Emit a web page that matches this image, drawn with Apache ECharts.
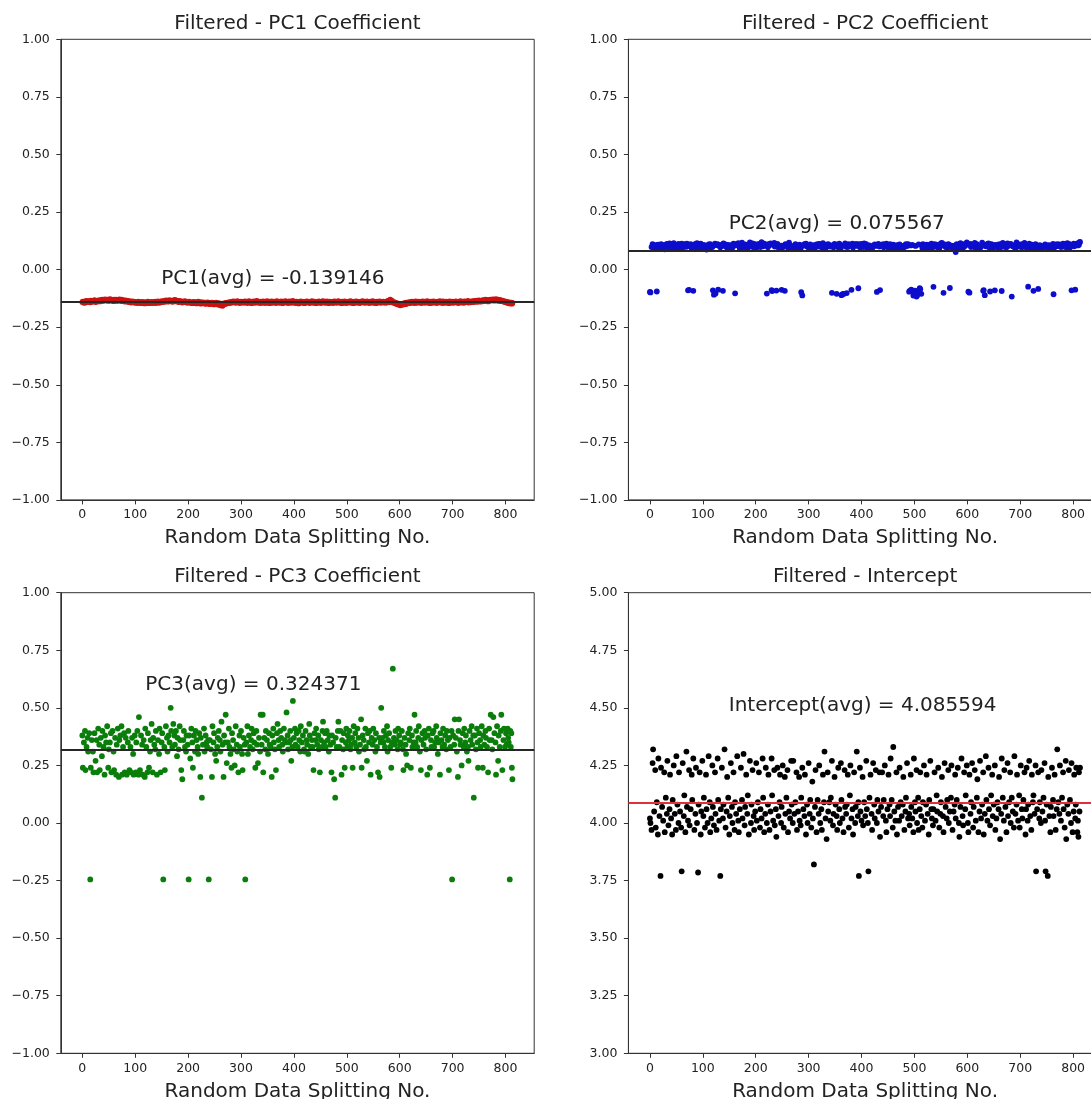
<!DOCTYPE html>
<html>
<head>
<meta charset="utf-8">
<title>Filtered coefficients</title>
<script src="https://cdn.jsdelivr.net/npm/echarts@6/dist/echarts.min.js"></script>
<style>
html,body{margin:0;padding:0;background:#fff}
#chart{width:1091px;height:1099px}
</style>
</head>
<body>
<div id="chart"></div>
<script>
// Tick positions on the splitting-number axis
const splitTicks = [0, 100, 200, 300, 400, 500, 600, 700, 800];

// Averages printed on each panel
const avgPC1 = -0.139146;
const avgPC2 = 0.075567;
const avgPC3 = 0.324371;
const avgIntercept = 4.085594;

// Splitting numbers that passed the filter (20 per row; the value arrays below follow the same rows)
const splits = [
0,1,3,5,6,8,10,11,13,15,16,18,20,21,23,25,27,28,30,32,
33,35,37,38,40,42,43,45,47,49,50,52,54,55,57,59,60,62,64,65,
67,69,70,72,74,75,77,79,80,82,84,86,87,89,91,92,94,96,97,99,
101,102,104,106,107,109,111,113,114,116,118,119,121,123,124,126,128,129,131,133,
134,136,138,139,141,143,145,146,148,150,151,153,155,156,158,160,161,163,165,167,
168,170,172,174,175,177,179,180,182,184,185,187,189,191,192,194,196,197,199,201,
202,204,206,208,209,211,213,214,216,218,219,221,223,224,226,228,230,231,233,235,
236,238,239,241,243,245,246,248,249,251,253,255,256,258,260,261,263,265,267,268,
270,271,273,275,277,278,280,282,283,285,286,288,290,292,293,295,297,298,300,302,
303,305,307,308,310,312,313,315,317,319,320,322,324,325,327,329,330,332,334,336,
337,339,341,342,344,346,347,349,351,353,354,356,358,359,361,362,364,366,368,369,
371,372,374,376,378,379,381,383,384,386,388,389,391,393,394,395,397,398,400,402,
403,405,407,409,410,412,413,415,417,419,420,422,424,425,427,429,430,432,434,435,
437,439,441,442,444,446,447,449,451,453,454,455,457,459,460,462,464,466,467,469,
471,472,474,476,478,479,481,483,484,486,488,490,491,493,494,496,498,499,501,502,
504,505,507,508,510,511,513,515,516,518,520,522,523,525,527,528,530,532,533,535,
536,538,540,542,543,545,547,549,550,552,554,555,557,559,561,562,564,565,567,569,
570,572,574,576,577,578,580,582,584,585,587,589,591,592,594,596,597,599,601,602,
604,606,607,609,611,612,614,616,618,619,621,623,624,626,628,630,631,633,635,636,
638,640,641,643,645,647,648,650,652,653,655,657,659,660,662,664,665,667,669,670,
672,674,676,677,679,681,682,684,686,688,689,691,693,694,696,698,699,701,703,704,
706,708,710,711,712,714,715,717,719,721,722,724,725,727,729,730,732,734,736,737,
739,740,742,744,746,747,748,750,752,753,755,757,758,760,762,763,765,767,769,770,
772,774,775,777,779,781,782,784,786,787,789,791,792,794,796,797,799,801,802,804,
805,806,808,809,810,811,812,813
];

const pc1 = [
-.141,-.139,-.144,-.138,-.143,-.136,-.139,-.141,-.137,-.142,-.135,-.140,-.138,-.136,-.133,-.141,-.137,-.139,-.134,-.136,
-.138,-.132,-.136,-.130,-.135,-.133,-.129,-.134,-.131,-.136,-.132,-.128,-.135,-.130,-.133,-.137,-.131,-.134,-.130,-.136,
-.132,-.135,-.129,-.134,-.131,-.137,-.133,-.136,-.139,-.134,-.138,-.136,-.141,-.137,-.140,-.143,-.138,-.141,-.139,-.144,
-.140,-.142,-.145,-.139,-.143,-.141,-.146,-.140,-.144,-.142,-.147,-.141,-.145,-.143,-.139,-.146,-.142,-.144,-.140,-.145,
-.141,-.143,-.139,-.145,-.142,-.138,-.144,-.140,-.142,-.137,-.141,-.139,-.136,-.140,-.134,-.138,-.135,-.139,-.133,-.137,
-.136,-.140,-.134,-.138,-.132,-.137,-.135,-.139,-.141,-.136,-.140,-.138,-.143,-.139,-.141,-.137,-.142,-.140,-.144,-.141,
-.139,-.143,-.145,-.141,-.146,-.140,-.144,-.142,-.147,-.143,-.139,-.145,-.141,-.148,-.144,-.142,-.146,-.143,-.149,-.145,
-.142,-.147,-.144,-.150,-.146,-.143,-.148,-.145,-.151,-.147,-.144,-.149,-.152,-.146,-.150,-.155,-.148,-.157,-.151,-.147,
-.149,-.145,-.147,-.143,-.146,-.141,-.144,-.140,-.143,-.138,-.142,-.139,-.144,-.141,-.137,-.143,-.140,-.145,-.139,-.142,
-.140,-.144,-.138,-.142,-.139,-.145,-.141,-.137,-.143,-.140,-.146,-.139,-.142,-.138,-.144,-.141,-.136,-.143,-.140,-.145,
-.139,-.142,-.144,-.138,-.141,-.145,-.140,-.137,-.143,-.139,-.146,-.141,-.138,-.144,-.140,-.142,-.139,-.145,-.137,-.141,
-.143,-.140,-.144,-.138,-.142,-.146,-.139,-.141,-.137,-.143,-.140,-.145,-.138,-.142,-.139,-.144,-.141,-.136,-.143,-.140,
-.145,-.139,-.142,-.147,-.140,-.143,-.138,-.141,-.144,-.140,-.146,-.139,-.142,-.138,-.143,-.141,-.145,-.140,-.137,-.142,
-.144,-.139,-.141,-.146,-.140,-.143,-.138,-.142,-.145,-.139,-.141,-.137,-.143,-.140,-.144,-.138,-.142,-.146,-.139,-.141,
-.143,-.140,-.145,-.138,-.142,-.139,-.144,-.141,-.137,-.143,-.140,-.146,-.139,-.142,-.144,-.138,-.141,-.145,-.140,-.143,
-.139,-.142,-.137,-.144,-.140,-.143,-.146,-.139,-.141,-.138,-.144,-.140,-.142,-.145,-.139,-.141,-.137,-.143,-.140,-.144,
-.141,-.138,-.143,-.140,-.145,-.139,-.142,-.137,-.144,-.140,-.142,-.146,-.139,-.143,-.141,-.138,-.144,-.140,-.142,-.139,
-.143,-.140,-.144,-.138,-.141,-.136,-.142,-.131,-.139,-.135,-.143,-.141,-.146,-.144,-.149,-.147,-.152,-.150,-.155,-.149,
-.153,-.148,-.151,-.146,-.150,-.144,-.147,-.142,-.146,-.141,-.144,-.139,-.143,-.140,-.145,-.138,-.142,-.144,-.139,-.141,
-.143,-.140,-.145,-.138,-.142,-.139,-.144,-.141,-.137,-.143,-.140,-.146,-.139,-.142,-.144,-.138,-.141,-.143,-.140,-.145,
-.139,-.142,-.137,-.143,-.140,-.145,-.138,-.141,-.144,-.139,-.142,-.140,-.146,-.138,-.141,-.143,-.139,-.144,-.140,-.142,
-.138,-.143,-.140,-.145,-.139,-.141,-.137,-.143,-.140,-.144,-.138,-.142,-.139,-.141,-.136,-.143,-.140,-.142,-.138,-.140,
-.137,-.141,-.136,-.139,-.135,-.140,-.137,-.134,-.139,-.136,-.138,-.133,-.137,-.135,-.131,-.136,-.133,-.138,-.132,-.135,
-.130,-.134,-.131,-.129,-.135,-.132,-.128,-.133,-.130,-.136,-.132,-.134,-.137,-.135,-.139,-.137,-.141,-.139,-.143,-.141,
-.145,-.142,-.147,-.144,-.146,-.143,-.148,-.145
];

const pc2 = [
-.097,-.099,.098,.110,.104,.092,.106,.089,-.095,.108,.101,.095,.103,.111,.093,.099,.107,.088,.104,.112,
.096,.108,.114,.101,.094,.110,.105,.115,.097,.106,.089,.104,.112,.099,.107,.093,.113,.105,.098,.110,
.108,.099,.113,-.090,-.088,.102,.111,.092,.106,-.092,.103,.112,.097,.115,.104,.095,.110,.113,.099,.101,
.095,.107,.091,.103,.087,.097,.109,.093,.111,.103,.098,-.090,-.109,.113,-.104,.106,.110,-.087,.104,.097,
.101,.108,-.092,.114,.103,.109,.100,.094,.107,.098,.089,.101,.107,.096,.113,.105,-.103,.111,.108,.115,
.102,.090,.112,.117,.099,.101,.095,.109,.099,.091,.104,.106,.118,.100,.108,.114,.097,.105,.111,.094,
.103,.106,.112,.104,.098,.119,.107,.101,.113,.105,.108,-.104,.097,.111,.106,.114,-.089,-.093,.109,.116,
.100,.107,-.091,.112,.096,.099,.092,.104,-.088,.097,.103,-.092,.110,.106,.109,.095,.117,.104,.091,.100,
.102,.096,.099,.110,.105,.097,.094,.100,.108,.092,-.098,-.112,.104,.111,.107,.113,.101,.099,.096,.102,
.109,.093,.098,.099,.106,.094,.103,.109,.106,.112,.100,.110,.107,.097,.115,.105,.101,.092,.108,.102,
.111,.106,.100,.103,-.101,.106,.097,.112,.104,-.105,.108,.097,.113,.101,.094,-.111,-.107,-.106,.107,.114,
.099,-.102,.098,.111,.106,.103,-.088,.113,.096,.108,.105,.110,.111,.103,-.081,.110,.097,.100,.112,.106,
.098,.114,.104,.111,.096,.102,.099,.105,.093,.101,.092,.101,.106,.109,.103,-.097,.108,.112,.100,-.089,
.105,.103,.111,.097,.107,.104,.113,.102,.095,.101,.110,.097,.105,.099,.108,.096,.100,.093,.106,.104,
.097,.109,.101,.095,.094,.103,.098,.107,.110,.102,.110,-.096,-.093,.105,-.087,.107,-.113,-.109,-.091,.103,
-.117,-.112,-.099,.109,-.081,-.085,-.105,.094,.111,.104,.097,.101,.108,.093,.107,.100,.096,.113,.092,.105,
-.075,.111,.100,.108,.099,.097,.093,.101,.114,.116,.107,-.101,.109,.098,.103,.096,.110,.108,-.080,.097,
.104,.102,.099,.088,.105,.076,.110,.103,.095,.100,.115,.104,.094,.109,.099,.107,.113,.118,.108,-.096,
-.100,.112,.098,.103,.106,.101,.116,.092,.111,.105,.096,.102,.094,.100,.117,-.092,-.089,-.111,.101,.107,
.112,.114,.097,-.095,.110,.108,.094,.102,-.090,.107,.101,.096,.109,.104,.095,.112,-.093,.116,.107,.099,
.111,.097,.114,.103,.108,.106,.112,-.117,.101,.099,.106,.093,.118,.104,.107,.100,.109,.105,.097,.110,
.107,.116,.099,.104,.096,.102,-.074,.113,.095,.104,.108,.100,-.092,.096,.111,.103,.094,-.084,.101,.106,
.103,.095,.100,.098,.102,.109,.104,.097,.093,.106,.094,.105,.101,.096,.112,-.107,.097,.108,.103,.110,
.102,.109,.104,.098,.106,.113,.100,.108,.110,.097,.115,.107,.112,.096,.103,-.090,.106,.113,.101,-.087,
.108,.110,.114,.105,.112,.108,.118,.120
];

const pc3 = [
.38,.24,.35,.40,.23,.33,.37,.31,.39,-.245,.24,.36,.31,.22,.39,.27,.36,.22,.41,.34,
.23,.37,.29,.40,.33,.21,.38,.35,.42,.24,.32,.35,.39,.22,.40,.31,.23,.37,.21,.34,
.41,.20,.36,.38,.42,.21,.33,.39,.22,.37,.21,.35,.40,.23,.33,.22,.37,.30,.21,.38,
.22,.35,.40,.21,.46,.23,.38,.34,.21,.36,.20,.41,.33,.22,.39,.24,.31,.36,.43,.22,
.37,.34,.32,.40,.21,.36,.30,.41,.22,.35,.39,-.245,.33,.23,.42,.37,.31,.38,.35,.50,
.40,.33,.43,.38,.34,.40,.29,.37,.32,.42,.36,.23,.19,.36,.40,.33,.31,.38,.34,-.245,
.38,.28,.41,.35,.24,.38,.31,.40,.36,.33,.30,.39,.20,.37,.11,.34,.41,.31,.38,.35,
.33,.36,-.245,.36,.32,.20,.42,.35,.39,.30,.27,.33,.37,.40,.36,.31,.44,.34,.20,.38,
.35,.47,.26,.35,.41,.33,.30,.24,.39,.36,.32,.25,.42,.34,.31,.22,.38,.33,.40,.30,
.23,.37,.34,-.245,.35,.42,.30,.38,.33,.36,.41,.32,.39,.35,.24,.40,.34,.26,.37,.31,
.47,.34,.47,.22,.37,.32,.40,.36,.30,.39,.34,.33,.20,.38,.41,.35,.32,.23,.39,.43,
.36,.33,.40,.37,.34,.31,.41,.36,.35,.48,.38,.32,.35,.40,.36,.27,.33,.53,.37,.41,
.34,.39,.33,.40,.36,.31,.42,.35,.38,.32,.31,.40,.36,.34,.30,.43,.38,.33,.36,.33,
.23,.39,.36,.41,.34,.38,.32,.22,.36,.33,.40,.44,.35,.39,.33,.40,.36,.31,.38,.34,
.22,.38,.35,.19,.11,.37,.33,.40,.44,.33,.40,.21,.36,.32,.39,.24,.35,.41,.33,.38,
.36,.40,.32,.34,.37,.24,.42,.35,.39,.33,.41,.37,.31,.34,.45,.24,.38,.36,.32,.41,
.33,.27,.39,.35,.40,.21,.37,.34,.41,.36,.31,.39,.33,.22,.37,.20,.35,.50,.37,.35,
.40,.33,.38,.42,.31,.36,.39,.33,.24,.35,.67,.37,.34,.40,.36,.32,.41,.38,.34,.35,
.40,.32,.23,.37,.34,.30,.25,.39,.36,.41,.24,.38,.33,.35,.47,.35,.40,.33,.37,.42,
.31,.23,.36,.39,.34,.40,.37,.32,.21,.38,.41,.24,.36,.33,.39,.40,.33,.35,.42,.37,
.30,.35,.21,.39,.36,.33,.41,.34,.38,.32,.40,.36,.23,.37,.33,.40,-.245,.38,.34,.45,
.37,.31,.20,.40,.45,.36,.34,.25,.39,.33,.41,.35,.38,.31,.33,.27,.40,.36,.42,.34,
.38,.11,.38,.32,.41,.35,.24,.39,.36,.33,.42,.24,.38,.34,.40,.37,.33,.22,.41,.36,
.47,.36,.32,.46,.39,.35,.21,.42,.27,.38,.33,.40,.47,.23,.36,.41,.33,.39,.34,.41,
.37,.35,-.245,.40,.33,.39,.24,.19
];

const intercept = [
4.02,4.00,3.97,4.26,4.32,4.05,4.23,3.98,4.09,3.95,4.28,4.03,3.77,4.24,4.07,4.01,4.22,3.96,4.11,4.04,
4.27,3.99,4.06,4.21,4.02,3.95,4.10,4.25,4.04,3.97,4.29,4.08,4.00,4.22,4.05,3.98,3.79,4.26,4.03,4.12,
3.96,4.31,4.07,4.01,4.23,3.99,4.06,4.21,4.10,4.28,3.97,4.04,4.24,4.00,3.785,4.08,4.22,3.95,4.05,4.27,
4.03,4.11,3.98,4.21,4.06,4.00,4.29,4.09,3.96,4.02,4.25,4.07,3.99,4.22,4.04,3.97,4.28,4.10,4.01,3.77,
4.06,4.24,4.02,4.08,4.32,3.98,4.05,4.20,4.11,3.95,4.03,4.26,4.07,4.00,4.22,3.97,4.09,4.04,4.29,4.01,
3.96,4.06,4.24,4.10,4.02,4.30,3.99,4.07,4.21,4.04,4.12,3.95,4.27,4.00,4.08,4.23,4.03,3.97,4.05,4.26,
4.01,4.09,4.22,3.98,4.06,4.02,4.28,4.11,3.96,4.04,4.24,4.00,4.08,4.21,3.97,4.05,4.28,4.12,4.01,4.23,
3.99,4.06,3.94,4.24,4.03,4.09,4.21,4.00,4.07,4.25,3.98,4.20,4.04,4.11,4.23,3.96,4.05,4.02,4.27,4.08,
4.00,4.27,4.04,4.09,4.22,3.97,4.05,4.20,4.01,3.99,4.11,4.24,4.06,4.03,4.21,3.95,4.08,4.00,4.26,4.04,
4.10,3.98,4.18,4.02,3.82,4.07,4.23,3.96,4.10,4.04,4.25,4.00,4.06,3.97,4.21,4.09,4.31,4.02,3.93,4.22,
4.05,4.09,4.01,4.11,4.27,3.99,4.04,4.20,4.08,4.03,3.97,4.24,4.06,4.00,4.26,4.10,4.02,3.96,4.23,4.07,
4.04,4.08,4.21,3.98,4.12,4.25,4.02,4.06,3.95,4.22,4.00,4.07,4.31,4.03,4.09,3.77,4.24,4.05,4.01,4.20,
3.99,4.09,4.03,4.27,4.06,4.00,3.79,4.11,4.21,4.04,3.97,4.26,4.08,4.02,4.23,4.00,4.10,4.05,4.22,3.94,
4.07,4.22,4.03,4.10,4.25,4.01,3.96,4.06,4.21,4.08,4.03,4.28,4.10,3.98,4.33,4.05,4.01,4.22,3.95,4.07,
4.01,4.24,4.09,4.03,4.08,4.20,3.97,4.05,4.11,4.26,4.02,4.04,3.99,4.21,4.07,4.02,3.96,4.28,4.09,4.05,
4.23,4.00,4.11,3.97,4.06,4.22,4.03,3.98,4.09,4.25,4.01,4.08,4.21,4.04,3.95,4.10,4.27,4.06,4.02,3.99,
4.06,4.22,4.01,4.12,4.05,4.24,3.98,4.04,4.09,4.20,4.03,3.96,4.26,4.07,4.02,4.10,4.23,4.00,4.05,4.11,
4.25,3.97,4.05,4.08,4.21,4.02,4.10,4.24,4.00,3.94,4.07,4.28,4.03,3.99,4.22,4.06,4.12,4.25,4.00,3.96,
4.21,4.04,4.09,4.26,3.98,4.07,4.23,4.01,4.11,4.19,3.96,4.05,4.27,4.02,4.08,4.22,3.95,4.04,4.29,4.10,
4.01,4.24,4.06,3.99,4.12,4.21,4.03,4.08,4.25,3.97,4.02,4.09,4.06,4.20,3.93,4.04,4.28,4.11,4.01,4.23,
4.07,3.96,4.26,4.03,4.09,4.22,4.00,4.11,4.05,3.98,4.29,4.04,4.08,4.21,4.01,4.12,3.98,4.25,4.06,4.02,
4.10,4.22,3.95,4.06,4.24,4.01,4.08,4.27,4.03,3.97,4.21,4.09,4.12,4.04,4.25,3.79,4.06,4.22,4.02,4.09,
4.00,4.23,4.05,4.11,4.26,4.01,3.79,4.08,3.77,4.20,4.03,3.96,4.07,4.24,4.10,4.03,4.21,3.97,4.06,4.32,
4.09,4.04,4.25,4.01,4.11,4.22,4.06,3.98,4.27,3.93,4.08,4.04,4.23,4.10,4.00,4.26,3.96,4.05,4.21,4.02,
4.08,4.24,3.96,4.01,3.94,4.22,4.05,4.24
];

const FONT = '"DejaVu Sans", sans-serif';
const INK = '#222';

// Panel definitions: grid box, values, colours, y range and where the average note sits
const panels = [
  { title: 'Filtered - PC1 Coefficient', name: 'PC1', values: pc1, avg: avgPC1,
    color: '#cc1111', lineColor: '#262626', yMin: -1, yMax: 1, noteX: 150, noteLift: 0.075,
    left: 60.8, top: 39.3 },
  { title: 'Filtered - PC2 Coefficient', name: 'PC2', values: pc2, avg: avgPC2,
    color: '#0d0dcc', lineColor: '#262626', yMin: -1, yMax: 1, noteX: 150, noteLift: 0.1,
    left: 628.4, top: 39.3 },
  { title: 'Filtered - PC3 Coefficient', name: 'PC3', values: pc3, avg: avgPC3,
    color: '#0a7d0a', lineColor: '#262626', yMin: -1, yMax: 1, noteX: 120, noteLift: 0.25,
    left: 60.8, top: 592.7 },
  { title: 'Filtered - Intercept', name: 'Intercept', values: intercept, avg: avgIntercept,
    color: '#000000', lineColor: '#e0303a', yMin: 3, yMax: 5, noteX: 150, noteLift: 0.4,
    left: 628.4, top: 592.7 }
];
const GRID_W = 473.4, GRID_H = 460.6;

const fmtTick = v => (v < 0 ? '\u2212' : '') + Math.abs(v).toFixed(2);

const option = {
  animation: false,
  backgroundColor: '#ffffff',
  title: panels.map(p => ({
    text: p.title,
    left: p.left + GRID_W / 2,
    top: p.top - 25.5,
    textAlign: 'center',
    padding: 0,
    textStyle: { fontFamily: FONT, fontSize: 20, fontWeight: 'normal', color: INK, lineHeight: 20 }
  })),
  grid: panels.map(p => ({
    left: p.left, top: p.top, width: GRID_W, height: GRID_H,
    outerBoundsMode: 'none',
    show: true, borderColor: '#333', borderWidth: 1, backgroundColor: 'transparent'
  })),
  xAxis: panels.map((p, i) => ({
    type: 'value', gridIndex: i, min: -40.7, max: 854.2,
    name: 'Random Data Splitting No.', nameLocation: 'middle', nameGap: 28,
    nameTextStyle: { fontFamily: FONT, fontSize: 20, color: INK, lineHeight: 20 },
    axisLine: { show: true, onZero: false, lineStyle: { color: '#333', width: 1 } },
    axisTick: { show: true, inside: false, length: 4.5, customValues: splitTicks,
      lineStyle: { color: '#333', width: 1 } },
    axisLabel: { show: true, customValues: splitTicks, margin: 8.5,
      fontFamily: FONT, fontSize: 12.5, color: INK, formatter: v => String(v) },
    splitLine: { show: false }
  })),
  yAxis: panels.map((p, i) => ({
    type: 'value', gridIndex: i, min: p.yMin, max: p.yMax, interval: 0.25,
    axisLine: { show: true, onZero: false, lineStyle: { color: '#333', width: 1 } },
    axisTick: { show: true, inside: false, length: 4.5, lineStyle: { color: '#333', width: 1 } },
    axisLabel: { show: true, margin: 11, fontFamily: FONT, fontSize: 12.5, color: INK,
      formatter: fmtTick },
    splitLine: { show: false }
  })),
  series: []
};

panels.forEach((p, i) => {
  const n = Math.min(p.values.length, splits.length);
  const pts = [];
  for (let k = 0; k < n; k++) pts.push([splits[k], p.values[k]]);
  option.series.push({
    type: 'scatter', xAxisIndex: i, yAxisIndex: i,
    data: pts,
    symbol: 'circle', symbolSize: 5.8,
    itemStyle: { color: p.color, opacity: 1 },
    silent: true,
    markLine: {
      silent: true, symbol: ['none', 'none'], animation: false,
      label: { show: false },
      lineStyle: { color: p.lineColor, width: 2, type: 'solid', opacity: 1 },
      data: [{ yAxis: p.avg }]
    },
    z: 2
  });
  option.series.push({
    type: 'scatter', xAxisIndex: i, yAxisIndex: i,
    data: [[p.noteX, p.avg + p.noteLift]],
    symbolSize: 1, itemStyle: { color: 'transparent', opacity: 1 }, silent: true,
    label: {
      show: true, position: [0, 0], offset: [0, -5], align: 'left', verticalAlign: 'middle',
      fontFamily: FONT, fontSize: 20, color: INK,
      formatter: () => p.name + '(avg) = ' + p.avg.toFixed(6)
    },
    z: 5
  });
});

const chart = echarts.init(document.getElementById('chart'), null, { renderer: 'canvas' });
chart.setOption(option);
</script>
</body>
</html>
